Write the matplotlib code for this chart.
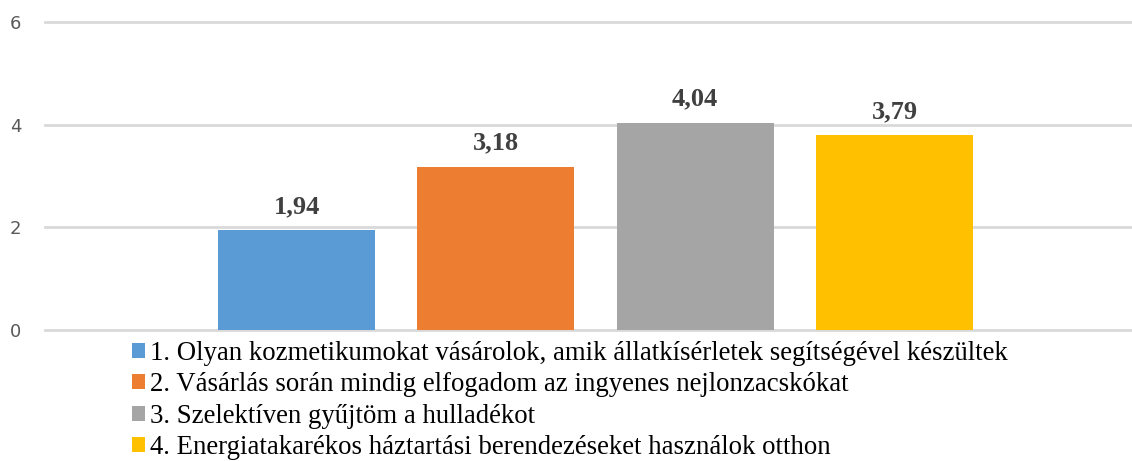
import matplotlib
matplotlib.use('Agg')
import matplotlib.pyplot as plt
from matplotlib.patches import Patch

# Adatok
labels = [
    '1. Olyan kozmetikumokat vásárolok, amik állatkísérletek segítségével készültek',
    '2. Vásárlás során mindig elfogadom az ingyenes nejlonzacskókat',
    '3. Szelektíven gyűjtöm a hulladékot',
    '4. Energiatakarékos háztartási berendezéseket használok otthon',
]
values = [1.94, 3.18, 4.04, 3.79]
value_texts = ['1,94', '3,18', '4,04', '3,79']
colors = ['#5B9BD5', '#ED7D31', '#A5A5A5', '#FFC000']
yticks = [0, 2, 4, 6]

fig = plt.figure(figsize=(11.32, 4.61), dpi=100)
ax = fig.add_axes([45 / 1132, 1 - 330 / 461, 1 - 45 / 1132, (330 - 22) / 461])

xs = list(range(len(values)))
bars = ax.bar(xs, values, width=0.788, color=colors, zorder=3)

for x, v, t in zip(xs, values, value_texts):
    ax.annotate(t, (x, v), xytext=(0, 9), textcoords='offset points',
                ha='center', va='bottom', fontsize=19, fontweight='bold',
                family='Liberation Serif', color='#404040')

ax.set_xlim(-1.262, 4.191)
ax.set_ylim(0, 6)
ax.set_yticks(yticks)
ax.set_xticks([])
ax.yaxis.grid(True, color='#D9D9D9', linewidth=2)
for gl in ax.get_ygridlines():
    gl.set_clip_on(False)
ax.set_axisbelow(True)
for s in ax.spines.values():
    s.set_visible(False)
ax.tick_params(axis='y', length=0, pad=17, labelsize=13, labelcolor='#595959')
for lbl in ax.get_yticklabels():
    lbl.set_family('DejaVu Sans')

handles = [Patch(facecolor=c, edgecolor='none') for c in colors]
fig.legend(handles, labels, loc='upper left', bbox_to_anchor=(132 / 1132, 1 - 341 / 461),
           frameon=False, prop={'family': 'Liberation Serif', 'size': 19.3},
           handlelength=0.48, handleheight=0.48, handletextpad=0.2,
           labelspacing=0.24, borderaxespad=0, borderpad=0)

fig.savefig('out.png', dpi=100)
